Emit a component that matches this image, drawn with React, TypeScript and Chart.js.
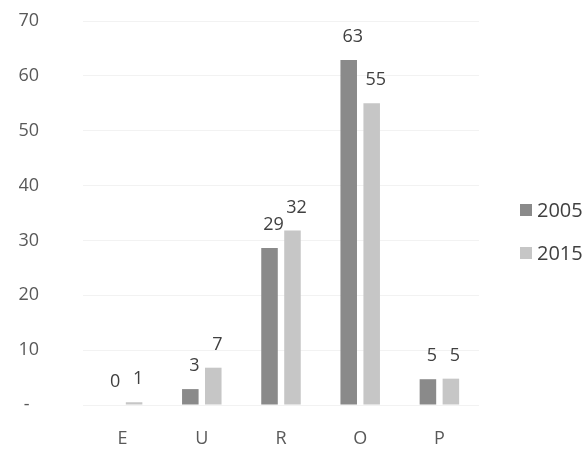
import React, { useEffect, useRef } from "react";
import { Chart, registerables } from "chart.js";

Chart.register(...registerables);

const categories = ["E", "U", "R", "O", "P"];
const seriesNames = ["2005", "2015"];
const values2005 = [0, 2.9, 28.6, 62.9, 4.7];
const values2015 = [0.5, 6.8, 31.8, 55.0, 4.8];
const seriesColors = ["#8a8a8a", "#c6c6c6"];
const yTicks = [0, 10, 20, 30, 40, 50, 60, 70];

const FONT = "'Open Sans', sans-serif";

const dataLabelPlugin = {
  id: "dataLabels",
  afterDatasetsDraw(chart: any) {
    const ctx = chart.ctx;
    ctx.save();
    ctx.font = `18px ${FONT}`;
    ctx.fillStyle = "#404040";
    ctx.textAlign = "center";
    ctx.textBaseline = "alphabetic";
    chart.data.datasets.forEach((ds: any, di: number) => {
      const meta = chart.getDatasetMeta(di);
      meta.data.forEach((el: any, i: number) => {
        const v = ds.data[i];
        ctx.fillText(String(Math.round(v)), el.x + 4, el.y - 18);
      });
    });
    ctx.restore();
  },
};

const legendPlugin = {
  id: "sideLegend",
  afterDraw(chart: any) {
    const ctx = chart.ctx;
    ctx.save();
    ctx.font = `20px ${FONT}`;
    ctx.textBaseline = "middle";
    ctx.textAlign = "left";
    const x = 520;
    const ys = [210, 253];
    chart.data.datasets.forEach((ds: any, i: number) => {
      ctx.fillStyle = ds.backgroundColor;
      ctx.fillRect(x, ys[i] - 6, 12, 12);
      ctx.fillStyle = "#404040";
      ctx.fillText(ds.label, x + 17, ys[i] + 1);
    });
    ctx.restore();
  },
};

export default function App() {
  const ref = useRef<HTMLCanvasElement | null>(null);
  useEffect(() => {
    if (!ref.current) return;
    const chart = new Chart(ref.current, {
      type: "bar",
      data: {
        labels: categories,
        datasets: [
          { label: seriesNames[0], data: values2005, backgroundColor: seriesColors[0] },
          { label: seriesNames[1], data: values2015, backgroundColor: seriesColors[1] },
        ],
      },
      options: {
        responsive: false,
        animation: false,
        layout: { padding: { left: 19, right: 108, top: 21, bottom: 0 } },
        datasets: { bar: { categoryPercentage: 0.58, barPercentage: 0.72 } },
        plugins: { legend: { display: false }, tooltip: { enabled: false } },
        scales: {
          x: {
            grid: { display: false },
            border: { display: false },
            ticks: { color: "#595959", font: { family: FONT, size: 18 }, padding: 15 },
            afterFit(scale: any) {
              scale.height = 45;
            },
          },
          y: {
            min: 0,
            max: 70,
            afterBuildTicks(scale: any) {
              scale.ticks = yTicks.map((v) => ({ value: v }));
            },
            afterFit(scale: any) {
              scale.width = 64;
              scale.paddingTop = 0;
              scale.paddingBottom = 0;
            },
            grid: { color: "#f2f2f2", drawTicks: false },
            border: { display: false },
            ticks: {
              color: "#595959",
              font: { family: FONT, size: 18 },
              padding: 44,
              callback: (v: any) => (v === 0 ? "-  " : String(v)),
            },
          },
        },
      },
      plugins: [dataLabelPlugin, legendPlugin],
    });
    return () => chart.destroy();
  }, []);
  return (
    <div style={{ position: "fixed", left: 0, top: 0, width: 587, height: 450, background: "#fff" }}>
      <canvas ref={ref} width={587} height={450} />
    </div>
  );
}
